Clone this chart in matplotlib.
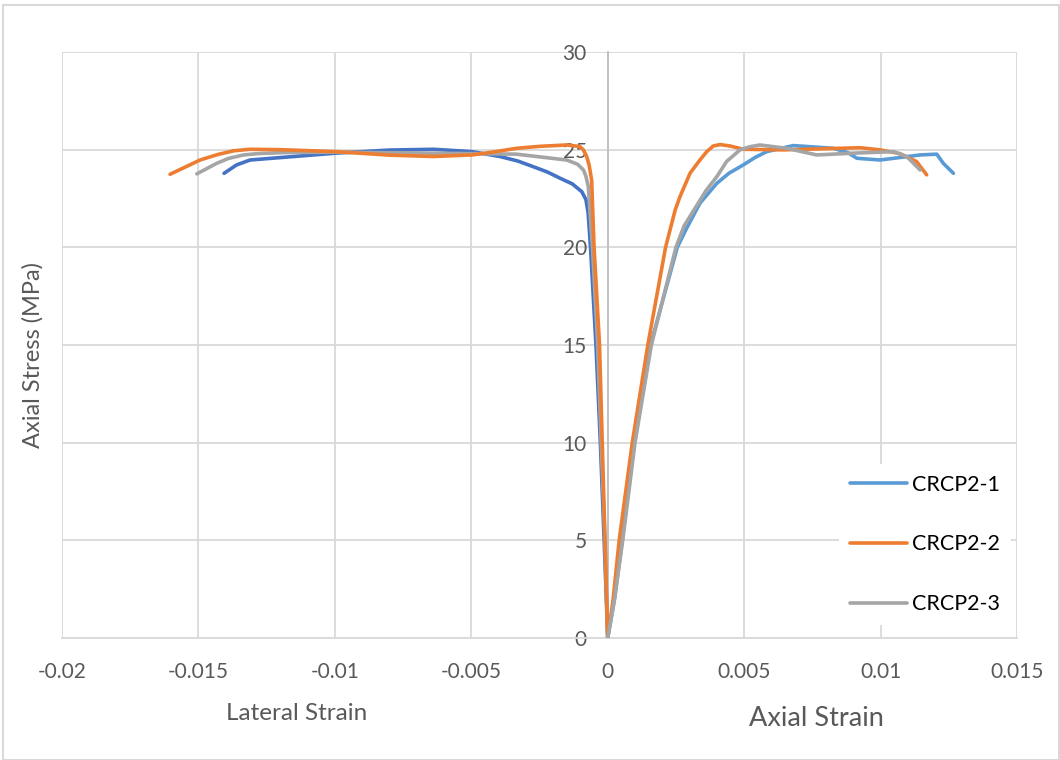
import matplotlib
matplotlib.use("Agg")
import matplotlib.pyplot as plt
from matplotlib.patches import Rectangle

plt.rcParams['font.family'] = ['Lato', 'DejaVu Sans']

# ---- data ----
series_names = ["CRCP2-1", "CRCP2-2", "CRCP2-3"]

lat1_x = [0, -0.00013, -0.00027, -0.00043, -0.00063, -0.00072, -0.00080, -0.00095, -0.0013,
          -0.00175, -0.0022, -0.00273, -0.0033, -0.00395, -0.00498, -0.00639, -0.00800,
          -0.00998, -0.01150, -0.01311, -0.0136, -0.01406]
lat1_y = [0, 5, 10, 15, 20, 21.8, 22.45, 22.85, 23.25, 23.54, 23.85, 24.13, 24.42, 24.65,
          24.9, 25.02, 24.98, 24.82, 24.65, 24.47, 24.22, 23.79]

lat2_x = [0, -0.0001, -0.0002, -0.0003, -0.0005, -0.00059, -0.00068, -0.00077, -0.00090,
          -0.00102, -0.0015, -0.0025, -0.00334, -0.0042, -0.00498, -0.00639, -0.0080,
          -0.00998, -0.0120, -0.01311, -0.01372, -0.0143, -0.01494, -0.01604]
lat2_y = [0, 5, 10, 15, 20, 23.45, 24.2, 24.65, 25.0, 25.16, 25.24, 25.17, 25.07, 24.88,
          24.73, 24.65, 24.72, 24.9, 25.0, 25.02, 24.94, 24.75, 24.47, 23.74]

lat3_x = [0, -0.0001, -0.00024, -0.00037, -0.00056, -0.00071, -0.00080, -0.00089, -0.0011,
          -0.0015, -0.00334, -0.00639, -0.00998, -0.01189, -0.0128, -0.01335, -0.0139,
          -0.01433, -0.01506]
lat3_y = [0, 5, 10, 15, 20, 23.1, 23.65, 23.96, 24.25, 24.47, 24.77, 24.82, 24.87, 24.85,
          24.8, 24.73, 24.55, 24.3, 23.76]

ax1_x = [0, 0.00025, 0.00053, 0.00098, 0.00157, 0.00255, 0.0029, 0.00338, 0.004, 0.00445,
         0.00497, 0.0054, 0.00583, 0.0068, 0.00827, 0.0088, 0.00913, 0.00998, 0.01145,
         0.01206, 0.0123, 0.01267]
ax1_y = [0, 2, 5, 10, 15, 20, 21.0, 22.26, 23.28, 23.8, 24.22, 24.6, 24.9, 25.21, 25.07,
         24.85, 24.56, 24.47, 24.73, 24.77, 24.3, 23.79]

ax2_x = [0, 0.0002, 0.00042, 0.0009, 0.00147, 0.00212, 0.00247, 0.00265, 0.00302, 0.00338,
         0.00363, 0.00387, 0.00412, 0.00448, 0.00497, 0.00644, 0.0080, 0.00925, 0.00998,
         0.0107, 0.01132, 0.01169]
ax2_y = [0, 2, 5, 10, 15, 20, 21.9, 22.6, 23.8, 24.47, 24.9, 25.19, 25.26, 25.19, 25.02,
         24.99, 25.05, 25.1, 24.99, 24.8, 24.39, 23.71]

ax3_x = [0, 0.00025, 0.00055, 0.001, 0.0016, 0.0025, 0.0028, 0.0032, 0.0036, 0.004,
         0.00436, 0.00485, 0.00521, 0.00558, 0.00656, 0.00766, 0.009, 0.01047, 0.01096,
         0.01145]
ax3_y = [0, 2, 5, 10, 15, 20, 21.1, 22.0, 22.9, 23.62, 24.4, 24.99, 25.15, 25.24, 25.07,
         24.73, 24.82, 24.9, 24.65, 23.96]

x_ticks = [-0.02, -0.015, -0.01, -0.005, 0, 0.005, 0.01, 0.015]
x_tick_labels = ["-0.02", "-0.015", "-0.01", "-0.005", "0", "0.005", "0.01", "0.015"]
y_ticks = [0, 5, 10, 15, 20, 25, 30]

# ---- style ----
c_blue_lat = "#4472C4"
c_blue = "#5B9BD5"
c_orange = "#ED7D31"
c_gray = "#A5A5A5"
grid_c = "#D9D9D9"
text_c = "#595959"
lw = 2.6

fig = plt.figure(figsize=(10.6, 7.6), dpi=100)
ax = fig.add_axes([62/1060, 1 - 638/760, (1017-62)/1060, (638-52)/760])

kw = dict(lw=lw, solid_capstyle='round', solid_joinstyle='round', zorder=3)
ax.plot(lat1_x, lat1_y, color=c_blue_lat, **kw)
ax.plot(lat3_x, lat3_y, color=c_gray, **kw)
ax.plot(lat2_x, lat2_y, color=c_orange, **kw)
l1, = ax.plot(ax1_x, ax1_y, color=c_blue, **kw)
l2, = ax.plot(ax2_x, ax2_y, color=c_orange, **kw)
l3, = ax.plot(ax3_x, ax3_y, color=c_gray, **kw)

ax.set_xlim(-0.02, 0.015)
ax.set_ylim(0, 30)
ax.set_xticks(x_ticks)
ax.set_xticklabels(x_tick_labels)
ax.set_yticks(y_ticks)

ax.grid(True, color=grid_c, lw=1.3, zorder=0)
ax.set_axisbelow(True)
for s in ['top', 'right']:
    ax.spines[s].set_visible(False)
ax.spines['left'].set_position(('data', 0))
ax.spines['left'].set_color("#BFBFBF")
ax.spines['left'].set_linewidth(1.3)
ax.spines['bottom'].set_color(grid_c)
ax.spines['bottom'].set_linewidth(1.3)

ax.tick_params(axis='both', length=0, labelsize=15, labelcolor=text_c)
ax.tick_params(axis='x', pad=17)
ax.tick_params(axis='y', pad=15)

fig.text(33/1060, 1 - 355/760, "Axial Stress (MPa)", rotation=90, ha='center', va='center',
         fontsize=17, color=text_c)
fig.text(297/1060, 1 - 713/760, "Lateral Strain", ha='center', va='center',
         fontsize=17.5, color=text_c)
fig.text(816/1060, 1 - 718/760, "Axial Strain", ha='center', va='center',
         fontsize=19.5, color=text_c)

leg = ax.legend([l1, l2, l3], series_names, loc='lower right',
                bbox_to_anchor=(1011/1060, 1 - 625/760), bbox_transform=fig.transFigure,
                frameon=True, facecolor='white', edgecolor='none', framealpha=1,
                fontsize=15.5, labelspacing=1.85, handlelength=2.65, handletextpad=0.25,
                borderpad=0.5, borderaxespad=0)
for t in leg.get_texts():
    t.set_color("#000000")

fig.patches.append(Rectangle((3/1060, 0), 1 - 4/1060, 1 - 5/760, transform=fig.transFigure,
                             fill=False, edgecolor="#D9D9D9", lw=1.5))

fig.savefig("out.png", dpi=100)
